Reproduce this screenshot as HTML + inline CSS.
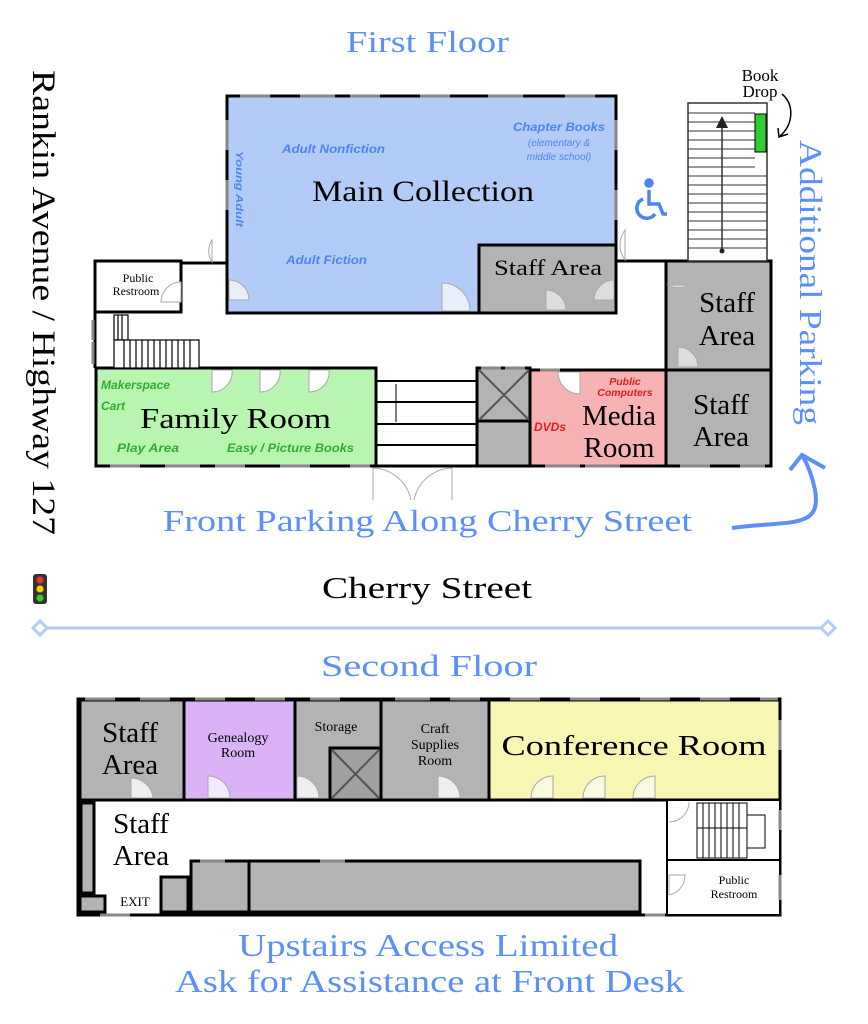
<!DOCTYPE html>
<html><head><meta charset="utf-8"><style>
html,body{margin:0;padding:0;background:#fff}
svg{display:block}
.s{font-family:"Liberation Serif",serif}
.i{font-family:"Liberation Sans",sans-serif;font-style:italic;font-weight:bold}
</style></head><body>
<svg width="868" height="1024" viewBox="0 0 868 1024" xmlns="http://www.w3.org/2000/svg">
<g class="s" fill="#5b8ff9" lengthAdjust="spacingAndGlyphs">
<text x="346" y="52" font-size="31" textLength="163" lengthAdjust="spacingAndGlyphs">First Floor</text>
<text x="163" y="531" font-size="31" textLength="529" lengthAdjust="spacingAndGlyphs">Front Parking Along Cherry Street</text>
<text x="321" y="676" font-size="31" textLength="216" lengthAdjust="spacingAndGlyphs">Second Floor</text>
<text x="238" y="956" font-size="32" textLength="380" lengthAdjust="spacingAndGlyphs">Upstairs Access Limited</text>
<text x="175" y="992" font-size="32" textLength="509" lengthAdjust="spacingAndGlyphs">Ask for Assistance at Front Desk</text>
<text transform="translate(800,140) rotate(90)" font-size="32" textLength="285" lengthAdjust="spacingAndGlyphs">Additional Parking</text>
</g>
<text class="s" transform="translate(33,70) rotate(90)" font-size="33" textLength="465" lengthAdjust="spacingAndGlyphs">Rankin Avenue / Highway 127</text>
<text class="s" x="322" y="598" font-size="31" textLength="210" lengthAdjust="spacingAndGlyphs">Cherry Street</text>
<!-- traffic light -->
<rect x="33" y="574" width="14" height="30" rx="3" fill="#333"/>
<circle cx="40" cy="580" r="3.5" fill="#e33"/><circle cx="40" cy="589" r="3.5" fill="#fc0"/><circle cx="40" cy="598" r="3.5" fill="#3c3"/>
<!-- divider -->
<line x1="40" y1="628" x2="828" y2="628" stroke="#b3cbf7" stroke-width="3"/>
<path d="M33 628 L40 621 L47 628 L40 635Z M821 628 L828 621 L835 628 L828 635Z" fill="#fff" stroke="#b3cbf7" stroke-width="3"/>
<!-- curved arrow -->
<path d="M732 528 C790 520 822 530 815 490 C812 475 808 465 802 455" fill="none" stroke="#5b8ff9" stroke-width="4"/>
<path d="M790 470 L802 455 L825 468" fill="none" stroke="#5b8ff9" stroke-width="4"/>

<g stroke="#000" stroke-width="3">
<rect x="227" y="96" width="389" height="217" fill="#b3cbf7"/>
<rect x="479" y="245" width="137" height="68" fill="#b3b3b3"/>
<rect x="95" y="261" width="86" height="51" fill="#fff"/>
<rect x="96" y="368" width="280" height="98" fill="#b8f5b0"/>
<rect x="477" y="368" width="53" height="98" fill="#b3b3b3"/>
<rect x="530" y="370" width="136" height="96" fill="#f7b3b3"/>
<rect x="666" y="261" width="105" height="109" fill="#b3b3b3"/>
<rect x="666" y="370" width="105" height="96" fill="#b3b3b3"/>
<line x1="181" y1="263" x2="227" y2="263"/><line x1="616" y1="261" x2="666" y2="261"/>
<line x1="376" y1="466" x2="477" y2="466"/><line x1="95" y1="312" x2="95" y2="368"/>
<line x1="477" y1="421" x2="530" y2="421"/>
</g>
<g stroke="#555" stroke-width="2" fill="none"><path d="M479 370 L529 420 M529 370 L479 420"/></g>
<g stroke="#000" stroke-width="2">
<line x1="376" y1="381" x2="477" y2="381"/><line x1="376" y1="402" x2="477" y2="402"/><line x1="376" y1="424" x2="477" y2="424"/><line x1="376" y1="445" x2="477" y2="445"/>
<line x1="396" y1="384" x2="396" y2="422" stroke-width="1"/>
</g>
<g stroke="#000" stroke-width="1.2" fill="#fff">
<rect x="114" y="315" width="14" height="25"/><rect x="114" y="340" width="85" height="28"/>
<path d="M118 315v25M122 315v25M124 340v28M130 340v28M136 340v28M142 340v28M148 340v28M154 340v28M160 340v28M166 340v28M172 340v28M178 340v28M184 340v28M190 340v28"/>
</g>
<rect x="688" y="103" width="79" height="158" fill="#fff" stroke="#333" stroke-width="1.5"/>
<g stroke="#333" stroke-width="1">
<path d="M688 113h67M688 122h67M688 131h67M688 140h67M688 149h67M688 158h67M688 167h67M688 176h79M688 185h79M688 194h79M688 203h79M688 212h79M688 221h79M688 230h79M688 239h79M688 248h79"/>
<line x1="722" y1="120" x2="722" y2="251" stroke-width="1.5"/>
</g>
<path d="M716 128 L722 116 L728 128Z" fill="#222"/><circle cx="722" cy="251" r="2.5" fill="#222"/>
<rect x="755" y="114" width="11" height="38" fill="#33cc33" stroke="#000" stroke-width="1"/>
<text class="s" x="760" y="81" font-size="17" text-anchor="middle">Book</text>
<text class="s" x="760" y="97" font-size="17" text-anchor="middle">Drop</text>
<path d="M782 94 C795 105 793 125 780 136" fill="none" stroke="#000" stroke-width="1.5"/>
<path d="M778 128 L779 137 L788 134" fill="none" stroke="#000" stroke-width="1.5"/>
<g stroke="#4a86f0" stroke-width="3.5" fill="none"><circle cx="649" cy="183" r="3" fill="#4a86f0"/><path d="M649 190v14h10l4 10h4"/><path d="M643 199a10 10 0 1 0 12 15"/></g>
<g fill="#e8eefa" stroke="#aaa" stroke-width="1">
<path d="M229 280 a20 20 0 0 1 20 20 h-20z"/><path d="M442 283 a28 28 0 0 1 28 28 h-28z"/>
<path d="M546 290 a20 20 0 0 1 20 20 h-20z" fill="#ddd"/><path d="M614 280 a20 20 0 0 0 -20 20 h20z" fill="#ddd"/>
<path d="M212 262 a20 20 0 0 1 0 -22 z" fill="#fff"/><path d="M625 260 a25 25 0 0 1 0 -30z" fill="#fff"/>
<path d="M181 282 a20 20 0 0 0 -20 20 h20z" fill="#fff"/>
<path d="M668 285 a20 20 0 0 0 20 0z" fill="#ddd"/><path d="M678 347 a20 20 0 0 1 20 20 h-20z" fill="#ddd"/>
<path d="M212 370 v22 a20 20 0 0 0 20 -22z" fill="#fff"/><path d="M260 370 v22 a20 20 0 0 0 20 -22z" fill="#fff"/><path d="M309 370 v22 a20 20 0 0 0 20 -22z" fill="#fff"/>
<path d="M558 372 a22 22 0 0 0 22 22 v-22z" fill="#fff"/>
<path d="M373 468 v32 M452 468 v32" fill="none"/>
<path d="M373 468 a40 40 0 0 1 38 32 M452 468 a40 40 0 0 0 -38 32" fill="none"/>
</g>
<g stroke="#888" stroke-width="3">
<path d="M240 96h30M300 96h35M350 96h30M420 96h30M488 96h35M565 96h30M227 120v30M227 180v30M616 120v30M616 190v30"/>
<path d="M110 466h30M165 466h35M215 466h30M280 466h30M350 466h20M545 466h35M585 466h35M680 466h30M740 466h25M481 368h20M505 368h20M540 370h20"/>
<path d="M93 320v20M93 342v22"/>
</g>
<text class="s" x="312" y="201" font-size="30" textLength="222" lengthAdjust="spacingAndGlyphs">Main Collection</text>
<text class="s" x="494" y="275" font-size="22" textLength="108" lengthAdjust="spacingAndGlyphs">Staff Area</text>
<text class="s" x="138" y="282" font-size="12" text-anchor="middle">Public</text>
<text class="s" x="136" y="295" font-size="12" text-anchor="middle">Restroom</text>
<text class="s" x="140" y="428" font-size="29" textLength="191" lengthAdjust="spacingAndGlyphs">Family Room</text>
<text class="s" x="619" y="425" font-size="29" text-anchor="middle">Media</text>
<text class="s" x="619" y="457" font-size="29" text-anchor="middle">Room</text>
<text class="s" x="727" y="312" font-size="29" text-anchor="middle">Staff</text>
<text class="s" x="727" y="345" font-size="29" text-anchor="middle">Area</text>
<text class="s" x="721" y="414" font-size="29" text-anchor="middle">Staff</text>
<text class="s" x="721" y="446" font-size="29" text-anchor="middle">Area</text>
<g class="i" fill="#4a86f0" font-size="12">
<text x="282" y="153" textLength="103" lengthAdjust="spacingAndGlyphs">Adult Nonfiction</text>
<text x="286" y="264" textLength="81" lengthAdjust="spacingAndGlyphs">Adult Fiction</text>
<text x="513" y="131" textLength="92" lengthAdjust="spacingAndGlyphs">Chapter Books</text>
<text x="559" y="146" font-weight="normal" font-size="10" text-anchor="middle">(elementary &amp;</text>
<text x="559" y="160" font-weight="normal" font-size="10" text-anchor="middle">middle school)</text>
<text transform="translate(236,151) rotate(90)" font-size="10" textLength="76" lengthAdjust="spacingAndGlyphs">Young Adult</text>
</g>
<g class="i" fill="#33aa33" font-size="12">
<text x="101" y="389" textLength="69" lengthAdjust="spacingAndGlyphs">Makerspace</text><text x="101" y="410">Cart</text>
<text x="117" y="452" textLength="62" lengthAdjust="spacingAndGlyphs">Play Area</text><text x="227" y="452" textLength="127" lengthAdjust="spacingAndGlyphs">Easy / Picture Books</text>
</g>
<g class="i" fill="#e02020" font-size="10.5">
<text x="625" y="385" text-anchor="middle">Public</text><text x="625" y="396" text-anchor="middle">Computers</text>
<text x="534" y="431" font-size="12">DVDs</text>
</g>

<g stroke="#000" stroke-width="3">
<rect x="78" y="699" width="702" height="216" fill="#fff"/>
<rect x="80" y="700" width="104" height="100" fill="#b3b3b3"/>
<rect x="184" y="700" width="111" height="100" fill="#d9b3f5"/>
<rect x="295" y="700" width="86" height="100" fill="#b3b3b3"/>
<rect x="381" y="700" width="108" height="100" fill="#b3b3b3"/>
<rect x="489" y="700" width="291" height="100" fill="#f7f7b3"/>
<rect x="330" y="748" width="51" height="52" fill="#a0a0a0"/>
<rect x="81" y="803" width="13" height="90" fill="#b3b3b3"/>
<rect x="80" y="896" width="25" height="16" fill="#b3b3b3"/>
<rect x="161" y="877" width="27" height="35" fill="#b3b3b3"/>
<rect x="191" y="861" width="58" height="51" fill="#b3b3b3"/>
<rect x="249" y="861" width="391" height="51" fill="#b3b3b3"/>
<rect x="667" y="800" width="113" height="60" fill="#fff" stroke-width="2"/>
<rect x="667" y="860" width="113" height="55" fill="#fff" stroke-width="2"/>
</g>
<path d="M332 750 L379 798 M379 750 L332 798" stroke="#555" stroke-width="2"/>
<g stroke="#000" stroke-width="1" fill="none">
<rect x="697" y="803" width="50" height="55"/>
<path d="M697 828h50M703 803v55M709 803v55M715 803v55M721 803v55M727 803v55M733 803v55M739 803v55M747 815h18v33h-18"/>
</g>
<g fill="#eee" stroke="#aaa" stroke-width="1">
<path d="M131 778 a22 22 0 0 1 22 20 h-22z"/><path d="M208 776 a22 22 0 0 1 22 22 h-22z" fill="#f3eaff"/>
<path d="M297 776 a22 22 0 0 1 22 22 h-22z"/><path d="M438 776 a22 22 0 0 1 22 22 h-22z"/>
<path d="M553 776 a22 22 0 0 0 -22 22 h22z" fill="#fafae0"/><path d="M605 776 a22 22 0 0 0 -22 22 h22z" fill="#fafae0"/><path d="M655 776 a22 22 0 0 0 -22 22 h22z" fill="#fafae0"/>
<path d="M669 822 a20 20 0 0 0 20 -20" fill="none"/><path d="M669 875 v20 a20 20 0 0 0 16 -20z" fill="none"/>
</g>
<g stroke="#888" stroke-width="3">
<path d="M85 699h30M140 699h30M195 699h30M255 699h30M310 699h30M395 699h35M450 699h30M510 699h30M570 699h30M640 699h30M700 699h30M760 699h18M780 720v30M780 810v20M780 875v25M100 915h30M645 915h20M200 861h25M320 861h25"/>
</g>
<g class="s" text-anchor="middle">
<text x="130" y="742" font-size="29">Staff</text><text x="130" y="774" font-size="29">Area</text>
<text x="238" y="742" font-size="14">Genealogy</text><text x="238" y="757" font-size="14">Room</text>
<text x="336" y="731" font-size="14">Storage</text>
<text x="435" y="733" font-size="14">Craft</text><text x="435" y="749" font-size="14">Supplies</text><text x="435" y="765" font-size="14">Room</text>
<text x="634" y="755" font-size="29" textLength="265" lengthAdjust="spacingAndGlyphs">Conference Room</text>
<text x="141" y="833" font-size="29">Staff</text><text x="141" y="865" font-size="29">Area</text>
<text x="135" y="906" font-size="13">EXIT</text>
<text x="734" y="884" font-size="12">Public</text><text x="734" y="898" font-size="12">Restroom</text>
</g>
</svg>
</body></html>
